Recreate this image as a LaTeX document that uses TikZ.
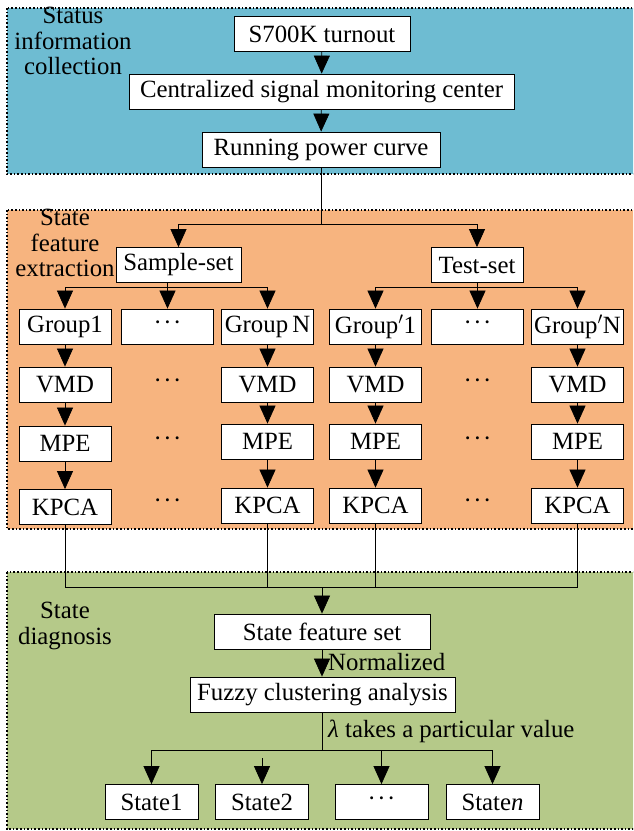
\documentclass[tikz,border=0pt]{standalone}
\usepackage{fontspec}
\setmainfont{Liberation Serif}
\usetikzlibrary{arrows.meta}
\definecolor{zblue}{RGB}{110,188,210}
\definecolor{zorange}{RGB}{247,180,127}
\definecolor{zgreen}{RGB}{181,201,137}
\newcommand\fsz{\fontsize{24.8}{25.5}\selectfont}
\newcommand\mydots{\raisebox{1pt}{·\kern1.5pt·\kern1.5pt·}}
\tikzset{
 box/.style={draw, fill=white, line width=0.8pt, minimum height=35pt, inner sep=0pt, font=\fsz},
 gbox/.style={box, minimum width=92pt},
 sbox/.style={box, minimum width=93pt},
 arr/.style={-{Triangle[length=18pt,width=16pt]}, line width=0.7pt},
 ln/.style={line width=0.7pt},
 zone/.style={dotted, line width=1.6pt},
 lbl/.style={align=center, font=\fsz, inner sep=0pt},
 dotl/.style={font=\fsz, inner sep=0pt}
}
\begin{document}
\begin{tikzpicture}[x=1pt,y=-1pt]
\useasboundingbox (0,0) rectangle (633,831);
\begin{scope}
\clip (0,0) rectangle (633,831);
\fill[zblue] (7,8) rectangle (645,174);
\draw[zone] (7,8) rectangle (645,174);
\fill[zorange] (7,210) rectangle (645,529);
\draw[zone] (7,210) rectangle (645,529);
\fill[zgreen] (7,572) rectangle (645,829);
\draw[zone] (7,572) rectangle (645,829);
\end{scope}

% labels
\node[lbl] (l1) at (73,41) {Status\\information\\collection};
\node[lbl] (l2) at (65,243) {State\\feature\\extraction};
\node[lbl] (l3) at (65,626) {State\\diagnosis};

% top
\node[box, minimum width=176pt] (s7) at (322,34) {S700K turnout};
\node[box, minimum width=385pt] (csm) at (321.5,91.5) {Centralized signal monitoring center};
\node[box, minimum width=238pt] (rpc) at (321,149.5) {Running power curve};
\draw[arr] (s7) -- (csm);
\draw[arr] (csm) -- (rpc);

\node[box, minimum width=125pt] (ss) at (178.5,265) {Sample-set};
\node[box, minimum width=92pt] (ts) at (477,265) {Test-set};
\coordinate (tb) at (321,224);
\draw[ln] (rpc.south) -- (tb);
\draw[ln] (ss.north |- tb) -- (ts.north |- tb);
\draw[arr] (ss.north |- tb) -- (ss.north);
\draw[arr] (ts.north |- tb) -- (ts.north);

% group row
\node[gbox] (g1) at (65,326.5) {Group1};
\node[gbox] (g2) at (167.5,326.5) {\mydots};
\node[gbox] (g3) at (267.5,326.5) {Group\,N};
\node[gbox] (g4) at (375.5,326.5) {Group$'$1};
\node[gbox] (g5) at (477.5,326.5) {\mydots};
\node[gbox] (g6) at (577.5,326.5) {Group$'$N};

\coordinate (b1) at (167.5,287);
\coordinate (b2) at (477.5,287);
\draw[ln] (ss.south -| b1) -- (b1);
\draw[ln] (g1.north |- b1) -- (g3.north |- b1);
\foreach \g in {g1,g2,g3} \draw[arr] (\g.north |- b1) -- (\g.north);
\draw[ln] (ts.south -| b2) -- (b2);
\draw[ln] (g4.north |- b2) -- (g6.north |- b2);
\foreach \g in {g4,g5,g6} \draw[arr] (\g.north |- b2) -- (\g.north);

% VMD row
\node[gbox] (v1) at (65,384.5) {VMD};
\node[dotl] (v2) at (167.5,384.5) {\mydots};
\node[gbox] (v3) at (267.5,384.5) {VMD};
\node[gbox] (v4) at (375.5,384.5) {VMD};
\node[dotl] (v5) at (477.5,384.5) {\mydots};
\node[gbox] (v6) at (577.5,384.5) {VMD};

% MPE row
\node[gbox] (m1) at (65,443.5) {MPE};
\node[dotl] (m2) at (167.5,442.5) {\mydots};
\node[gbox] (m3) at (267.5,441.5) {MPE};
\node[gbox] (m4) at (375.5,441.5) {MPE};
\node[dotl] (m5) at (477.5,442.5) {\mydots};
\node[gbox] (m6) at (577.5,441.5) {MPE};

% KPCA row
\node[gbox] (k1) at (65,507) {KPCA};
\node[dotl] (k2) at (167.5,504) {\mydots};
\node[gbox] (k3) at (267.5,505.5) {KPCA};
\node[gbox] (k4) at (375.5,505.5) {KPCA};
\node[dotl] (k5) at (477.5,504) {\mydots};
\node[gbox] (k6) at (577.5,505.5) {KPCA};

\foreach \c in {1,3,4,6} {
  \draw[arr] (g\c) -- (v\c);
  \draw[arr] (v\c) -- (m\c);
  \draw[arr] (m\c) -- (k\c);
}

% bottom join
\coordinate (jn) at (322,587);
\foreach \c in {1,3,4,6} \draw[ln] (k\c.south) -- (k\c.south |- jn);
\draw[ln] (k1.south |- jn) -- (k6.south |- jn);
\node[box, minimum width=216pt] (sfs) at (322,631.5) {State feature set};
\draw[arr] (jn) -- (sfs.north);

\node[box, minimum width=265pt] (fz) at (322.5,694.5) {Fuzzy clustering analysis};
\draw[arr] (sfs.south) -- (fz.north -| sfs.south);
\node[dotl, anchor=west] (nrm) at (328,662) {Normalized};

\coordinate (br) at (322,750);
\draw[ln] (fz.south -| br) -- (br);
\node[dotl, anchor=west] (lam) at (328,731) {{\itshape λ} takes a particular value};

\node[sbox] (st1) at (151.5,802) {State1};
\node[sbox] (st2) at (262,802) {State2};
\node[sbox] (st3) at (381.5,802) {\mydots};
\node[sbox] (st4) at (492.5,802) {State{\itshape n}};
\draw[ln] (st1.north |- br) -- (st4.north |- br);
\draw[arr] (st1.north |- br) -- (st1.north);
\coordinate (s2top) at (262,758);
\draw[arr] (s2top) -- (st2.north);
\draw[arr] (st3.north |- br) -- (st3.north);
\draw[arr] (st4.north |- br) -- (st4.north);
\end{tikzpicture}
\end{document}
